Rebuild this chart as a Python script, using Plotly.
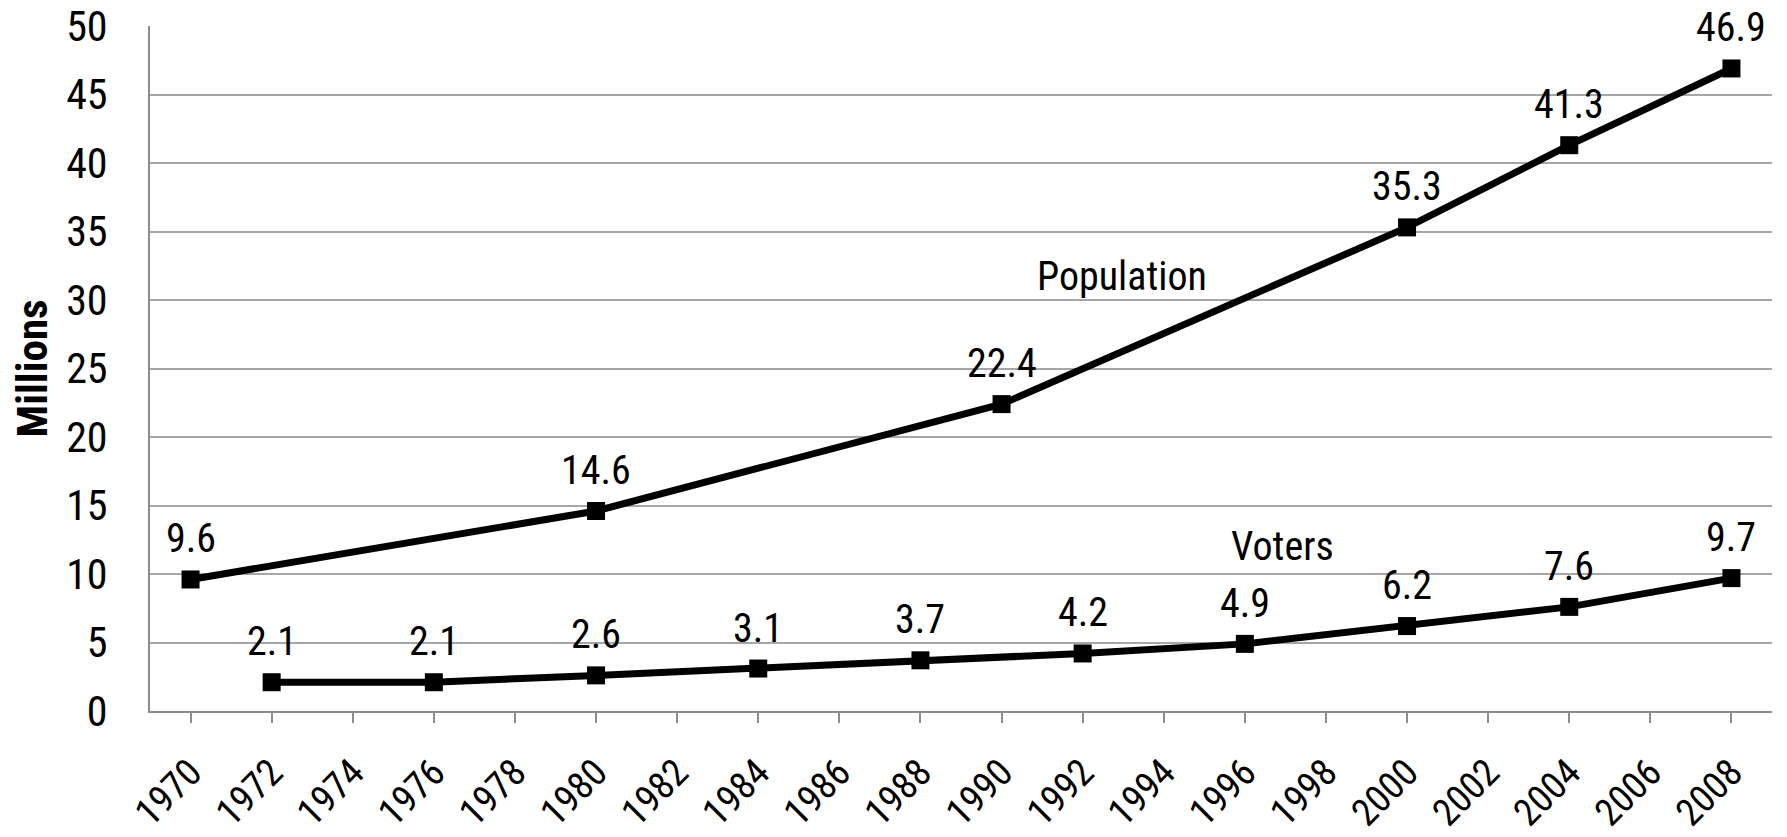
import plotly.graph_objects as go

years = [str(y) for y in range(1970, 2009, 2)]
population = [9.6, None, None, None, None, 14.6, None, None, None, None,
              22.4, None, None, None, None, 35.3, None, 41.3, None, 46.9]
voters = [None, 2.1, None, 2.1, None, 2.6, None, 3.1, None, 3.7,
          None, 4.2, None, 4.9, None, 6.2, None, 7.6, None, 9.7]
y_ticks = [0, 5, 10, 15, 20, 25, 30, 35, 40, 45, 50]

FONT = "Roboto Condensed, Liberation Sans Narrow, Arial Narrow, Roboto, sans-serif"
FS = 40

fig = go.Figure()
for name, vals in [("Population", population), ("Voters", voters)]:
    fig.add_trace(go.Scatter(
        x=years, y=vals, mode="lines+markers", name=name, connectgaps=True,
        line=dict(color="black", width=7),
        marker=dict(symbol="square", size=18, color="black"),
        showlegend=False, cliponaxis=False,
    ))

annotations = []
for vals in (population, voters):
    for i, v in enumerate(vals):
        if v is not None:
            annotations.append(dict(
                x=i, y=v, xref="x", yref="y", text=f"{v:.1f}", showarrow=False,
                yanchor="bottom", yshift=15, font=dict(size=FS, color="black", family=FONT)))

annotations.append(dict(x=0.5994, y=31.7, xref="paper", yref="y", text="Population",
                        xanchor="center", showarrow=False,
                        font=dict(size=FS, color="black", family=FONT)))
annotations.append(dict(x=0.698, y=12.0, xref="paper", yref="y", text="Voters",
                        xanchor="center", showarrow=False,
                        font=dict(size=FS, color="black", family=FONT)))
annotations.append(dict(x=-0.0728, y=0.5, xref="paper", yref="paper", text="<b>Millions</b>",
                        textangle=-90, showarrow=False, xanchor="center", yanchor="middle",
                        font=dict(size=43, color="black", family=FONT)))

fig.update_layout(
    width=1787, height=837,
    margin=dict(l=150, r=15, t=26, b=126),
    paper_bgcolor="white", plot_bgcolor="white",
    font=dict(family=FONT, size=FS, color="black"),
    annotations=annotations,
)
fig.update_xaxes(
    type="category", range=[-0.5, 19.5], tickangle=-45, automargin=False,
    showline=True, linecolor="#8c8c8c", linewidth=2,
    ticks="outside", ticklen=10, tickcolor="#8c8c8c", tickwidth=2,
    showgrid=False, tickfont=dict(size=38), ticklabelstandoff=12,
)
fig.update_yaxes(
    range=[0, 50], tickvals=y_ticks, showline=True, linecolor="#8c8c8c", linewidth=2,
    showgrid=True, gridcolor="#a6a6a6", gridwidth=1.5, zeroline=False, automargin=False,
    tickfont=dict(size=42), ticks="", ticklabelstandoff=32,
)
fig.write_html("out.html")
